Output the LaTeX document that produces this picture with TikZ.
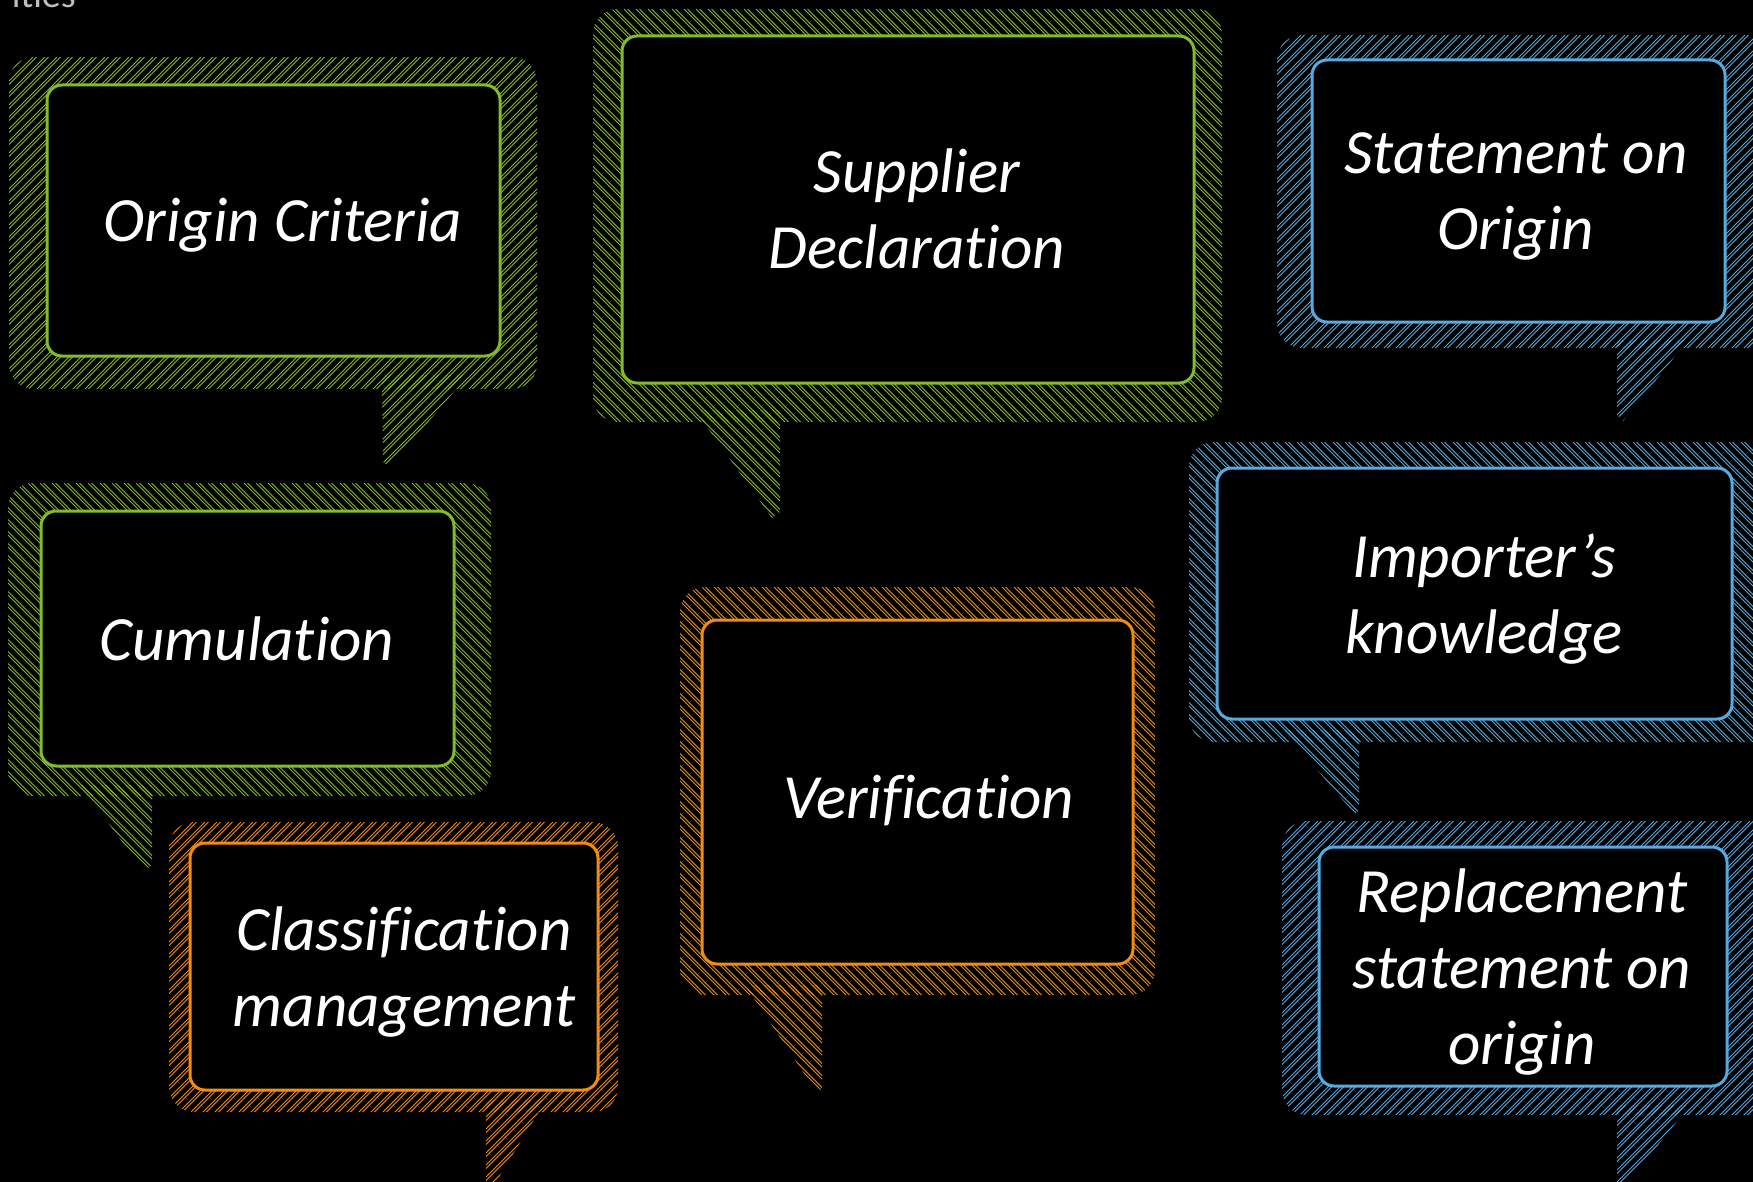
\documentclass[tikz,border=0pt]{standalone}
\usepackage{fontspec}
\setmainfont{Carlito}[Ligatures=NoCommon]
\definecolor{cgreen}{RGB}{130,188,40}
\definecolor{cblue}{RGB}{86,170,224}
\definecolor{corange}{RGB}{240,140,20}
\definecolor{cgrey}{RGB}{190,190,190}
\newcommand\hatchband[6]{% #1 sign, #2 xmin, #3 ymin, #4 xmax, #5 ymax, #6 colour
  \pgfmathsetmacro\hh{#5-#3}%
  \pgfmathsetmacro\xs{#2-\hh}%
  \pgfmathsetmacro\xn{\xs+12}%
  \foreach \xx in {\xs,\xn,...,#4} {%
    \ifnum#1>0
      \draw[hatchline=#6] (\xx,#5) -- ++(\hh,-\hh) ++(3.5,0) -- ++(-\hh,\hh);
    \else
      \draw[hatchline=#6] (\xx,#3) -- ++(\hh,\hh) ++(3.5,0) -- ++(-\hh,-\hh);
    \fi
  }%
}
\tikzset{
  hatchline/.style={draw=#1, line width=0.9pt},
  innerbox/.style={draw=#1, line width=3pt, fill=black, rounded corners=15pt,
    rectangle, inner sep=0pt},
  lbl/.style={text=white, font=\fontsize{63}{76}\selectfont\itshape, align=center, inner sep=0pt},
}
\begin{document}
\begin{tikzpicture}[x=1pt,y=-1pt]
\fill[black] (0,0) rectangle (1753,1182);
\useasboundingbox (0,0) rectangle (1753,1182);

\node[anchor=base east, text=cgrey, font=\fontsize{38}{44}\selectfont, inner sep=0pt] (hdr) at (76,8) {ities};

% ---------- C1 Origin Criteria ----------
\begin{scope}\clip[rounded corners=25pt] (9,57) rectangle (537,389);
\hatchband{1}{9}{57}{537}{467}{cgreen}\end{scope}
\begin{scope}\clip (382,375) -- (468,375) -- (390,467) -- (383,462) -- cycle;
\hatchband{1}{9}{57}{537}{467}{cgreen}\end{scope}
\node[innerbox=cgreen, minimum width=453pt, minimum height=271pt] (b1) at (273.5,220.5) {};
\node[lbl, anchor=base] (t1) at (283,242) {Origin Criteria};

% ---------- C2 Supplier Declaration ----------
\begin{scope}\clip[rounded corners=25pt] (593,9) rectangle (1222,422);
\hatchband{-1}{593}{9}{1222}{518}{cgreen}\end{scope}
\begin{scope}\clip (695,410) -- (780,410) -- (780,512) -- (772,518) -- cycle;
\hatchband{-1}{593}{9}{1222}{518}{cgreen}\end{scope}
\node[innerbox=cgreen, minimum width=572pt, minimum height=347pt] (b2) at (908,209.5) {};
\node[lbl, anchor=base] (t2) at (917,269) {Supplier\\Declaration};

% ---------- C3 Statement on Origin ----------
\begin{scope}\clip[rounded corners=25pt] (1277,35) rectangle (1780,348);
\hatchband{1}{1277}{35}{1780}{421}{cblue}\end{scope}
\begin{scope}\clip (1617,340) -- (1688,340) -- (1623,421) -- (1617,415) -- cycle;
\hatchband{1}{1277}{35}{1780}{421}{cblue}\end{scope}
\node[innerbox=cblue, minimum width=413pt, minimum height=262pt] (b3) at (1518.5,191) {};
\node[lbl, anchor=base] (t3) at (1516,250) {Statement on\\Origin};

% ---------- C4 Importer's knowledge ----------
\begin{scope}\clip[rounded corners=25pt] (1189,442) rectangle (1780,742);
\hatchband{-1}{1189}{442}{1780}{814}{cblue}\end{scope}
\begin{scope}\clip (1283,730) -- (1359,730) -- (1359,810) -- (1355,814) -- cycle;
\hatchband{-1}{1189}{442}{1780}{814}{cblue}\end{scope}
\node[innerbox=cblue, minimum width=515pt, minimum height=251pt] (b4) at (1474.5,593.5) {};
\node[lbl, anchor=base] (t4) at (1484,653) {Importer’s\\knowledge};

% ---------- C5 Replacement statement on origin ----------
\begin{scope}\clip[rounded corners=25pt] (1282,821) rectangle (1780,1115);
\hatchband{1}{1282}{821}{1780}{1190}{cblue}\end{scope}
\begin{scope}\clip (1617,1105) -- (1690,1105) -- (1622,1190) -- (1617,1190) -- cycle;
\hatchband{1}{1282}{821}{1780}{1190}{cblue}\end{scope}
\node[innerbox=cblue, minimum width=408pt, minimum height=239pt] (b5) at (1523,966.5) {};
\node[lbl, anchor=base] (t5) at (1522,1064) {Replacement\\statement on\\origin};

% ---------- C6 Cumulation ----------
\begin{scope}\clip[rounded corners=25pt] (8,483) rectangle (491,796);
\hatchband{-1}{8}{483}{491}{871}{cgreen}\end{scope}
\begin{scope}\clip (80,785) -- (152,785) -- (152,865) -- (144,871) -- cycle;
\hatchband{-1}{8}{483}{491}{871}{cgreen}\end{scope}
\node[innerbox=cgreen, minimum width=413pt, minimum height=255pt] (b6) at (247.5,638.5) {};
\node[lbl, anchor=base] (t6) at (247,660) {Cumulation};

% ---------- C7 Classification management ----------
\begin{scope}\clip[rounded corners=25pt] (169,822) rectangle (618,1112);
\hatchband{1}{169}{822}{618}{1190}{corange}\end{scope}
\begin{scope}\clip (486,1100) -- (546,1100) -- (491,1190) -- (486,1190) -- cycle;
\hatchband{1}{169}{822}{618}{1190}{corange}\end{scope}
\node[innerbox=corange, minimum width=408pt, minimum height=247pt] (b7) at (394,966.5) {};
\node[lbl, anchor=base] (t7) at (404,1026) {Classification\\management};

% ---------- C8 Verification ----------
\begin{scope}\clip[rounded corners=25pt] (680,587) rectangle (1155,995);
\hatchband{-1}{680}{587}{1155}{1093}{corange}\end{scope}
\begin{scope}\clip (745,985) -- (822,985) -- (822,1088) -- (817,1093) -- cycle;
\hatchband{-1}{680}{587}{1155}{1093}{corange}\end{scope}
\node[innerbox=corange, minimum width=431pt, minimum height=344pt] (b8) at (917.5,792) {};
\node[lbl, anchor=base] (t8) at (929,818) {Verification};
\end{tikzpicture}
\end{document}
